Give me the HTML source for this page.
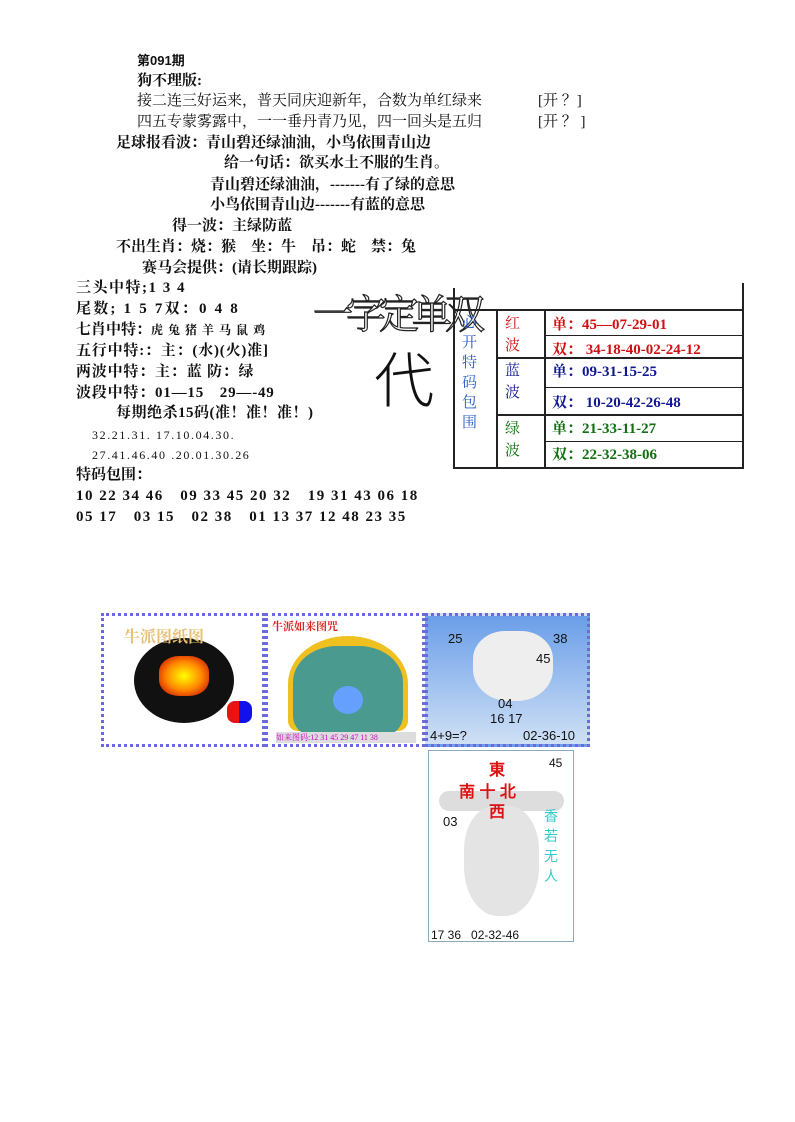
<!DOCTYPE html>
<html><head><meta charset="utf-8"><style>
body{margin:0;width:795px;height:1122px;background:#fff;position:relative;overflow:hidden;font-family:"Liberation Serif","Noto Serif CJK SC",serif;color:#111}
.t{position:absolute;white-space:nowrap;font-size:15px;line-height:18px}
.b{font-weight:bold}
.s{font-size:12px}
.ln{position:absolute;background:#222}
.c{position:absolute;white-space:nowrap;font-size:15px;font-weight:bold}
</style></head><body>
<div class="t b" style="left:137px;top:52px;font-size:13px;font-family:'Liberation Sans','Noto Sans CJK SC',sans-serif">第091期</div>
<div class="t b" style="left:137px;top:72px">狗不理版:</div>
<div class="t" style="left:137px;top:92px">接二连三好运来，普天同庆迎新年，合数为单红绿来</div>
<div class="t" style="left:538px;top:92px">[开 ？]</div>
<div class="t" style="left:137px;top:113px">四五专蒙雾露中，一一垂丹青乃见，四一回头是五归</div>
<div class="t" style="left:538px;top:113px">[开 ？ ]</div>
<div class="t b" style="left:116px;top:134px">足球报看波：青山碧还绿油油，小鸟依围青山边</div>
<div class="t b" style="left:224px;top:154px">给一句话：欲买水土不服的生肖。</div>
<div class="t b" style="left:210px;top:176px">青山碧还绿油油，-------有了绿的意思</div>
<div class="t b" style="left:210px;top:196px">小鸟依围青山边-------有蓝的意思</div>
<div class="t b" style="left:172px;top:217px">得一波：主绿防蓝</div>
<div class="t b" style="left:116px;top:238px">不出生肖：烧：猴　坐：牛　吊：蛇　禁：兔</div>
<div class="t b" style="left:142px;top:259px">赛马会提供：(请长期跟踪)</div>

<div class="t b" style="left:76px;top:279px;letter-spacing:1.5px">三头中特;1 3 4</div>
<div class="t b" style="left:76px;top:300px;letter-spacing:2.2px">尾数; 1 5 7双：0 4 8</div>
<div class="t b" style="left:76px;top:321px">七肖中特：<span class="s" style="letter-spacing:1px">虎 兔 猪 羊 马 鼠 鸡</span></div>
<div class="t b" style="left:76px;top:342px;letter-spacing:0.8px">五行中特:：主：(水)(火)准]</div>
<div class="t b" style="left:76px;top:363px;letter-spacing:0.8px">两波中特：主：蓝 防：绿</div>
<div class="t b" style="left:76px;top:384px;letter-spacing:0.8px">波段中特：01—15　29—-49</div>
<div class="t b" style="left:116px;top:404px;letter-spacing:0.5px">每期绝杀15码(准！准！准！)</div>
<div class="t" style="left:92px;top:426px;font-size:12px;letter-spacing:1.6px">32.21.31. 17.10.04.30.</div>
<div class="t" style="left:92px;top:446px;font-size:12px;letter-spacing:1.6px">27.41.46.40 .20.01.30.26</div>
<div class="t b" style="left:76px;top:466px">特码包围：</div>
<div class="t b" style="left:76px;top:487px;letter-spacing:1.5px">10 22 34 46　09 33 45 20 32　19 31 43 06 18</div>
<div class="t b" style="left:76px;top:508px;letter-spacing:1.5px">05 17　03 15　02 38　01 13 37 12 48 23 35</div>

<div class="t" style="left:313px;top:293px;font-size:40px;line-height:44px;color:#fff;-webkit-text-stroke:1.2px #222;letter-spacing:-7px">一字定单双</div>
<div class="t" style="left:374px;top:345px;font-size:60px;line-height:64px;color:#111;font-family:'Noto Sans CJK SC',sans-serif;font-weight:300">代</div>

<div class="ln" style="left:742px;top:283px;width:2px;height:186px"></div>
<div class="ln" style="left:454px;top:309px;width:290px;height:2px"></div>
<div class="ln" style="left:453px;top:288px;width:2px;height:181px"></div>
<div class="ln" style="left:453px;top:467px;width:291px;height:2px"></div>
<div class="ln" style="left:496px;top:309px;width:2px;height:160px"></div>
<div class="ln" style="left:544px;top:309px;width:2px;height:160px"></div>
<div class="ln" style="left:544px;top:335px;width:200px;height:1px"></div>
<div class="ln" style="left:496px;top:357px;width:248px;height:2px"></div>
<div class="ln" style="left:544px;top:387px;width:200px;height:1px"></div>
<div class="ln" style="left:496px;top:414px;width:248px;height:2px"></div>
<div class="ln" style="left:544px;top:441px;width:200px;height:1px"></div>

<div class="t" style="left:462px;top:313px;width:16px;white-space:normal;font-size:15px;line-height:20px;color:#2a5ac8">必开特码包围</div>
<div class="t" style="left:505px;top:313px;width:16px;white-space:normal;font-size:15px;line-height:22px;color:#d01010">红波</div>
<div class="t" style="left:505px;top:360px;width:16px;white-space:normal;font-size:15px;line-height:22px;color:#101890">蓝波</div>
<div class="t" style="left:505px;top:418px;width:16px;white-space:normal;font-size:15px;line-height:22px;color:#107010">绿波</div>
<div class="c" style="left:552px;top:313px;color:#d01010">单：45—07-29-01</div>
<div class="c" style="left:552px;top:338px;color:#d01010">双：&nbsp;34-18-40-02-24-12</div>
<div class="c" style="left:552px;top:360px;color:#101890">单：09-31-15-25</div>
<div class="c" style="left:552px;top:391px;color:#101890">双：&nbsp;10-20-42-26-48</div>
<div class="c" style="left:552px;top:417px;color:#107010">单：21-33-11-27</div>
<div class="c" style="left:552px;top:443px;color:#107010">双：22-32-38-06</div>

<div style="position:absolute;left:101px;top:613px;width:164px;height:134px;background:#fff;border:3px dotted #6a6adc;box-sizing:border-box">
 <div style="position:absolute;left:30px;top:22px;width:100px;height:85px;border-radius:50%;background:#111"></div>
 <div style="position:absolute;left:55px;top:40px;width:50px;height:40px;border-radius:40%;background:radial-gradient(#ff0,#f80 50%,#c10 90%)"></div>
 <div style="position:absolute;left:123px;top:85px;width:12px;height:22px;background:#e11;border-radius:8px 0 0 8px"></div>
 <div style="position:absolute;left:135px;top:85px;width:13px;height:22px;background:#11e;border-radius:0 8px 8px 0"></div>
 <div style="position:absolute;left:20px;top:8px;font-size:16px;color:#e8c070;font-weight:bold">牛派图纸图</div>
</div>
<div style="position:absolute;left:265px;top:613px;width:160px;height:134px;background:#fff;border:3px dotted #6a6adc;box-sizing:border-box">
 <div style="position:absolute;left:4px;top:2px;font-size:11px;color:#d22;font-weight:bold">牛派如来图咒</div>
 <div style="position:absolute;left:20px;top:20px;width:120px;height:95px;border-radius:50% 50% 10px 10px;background:#f0c020"></div>
 <div style="position:absolute;left:25px;top:30px;width:110px;height:90px;background:#4a9a90;border-radius:40% 40% 20px 20px"></div>
 <div style="position:absolute;left:65px;top:70px;width:30px;height:28px;border-radius:50%;background:#66a0ff"></div>
 <div style="position:absolute;left:8px;top:116px;width:140px;height:11px;background:#ddd;font-size:8px;color:#c0c">如来图码:12 31 45 29 47 11 38</div>
</div>
<div style="position:absolute;left:425px;top:613px;width:165px;height:134px;background:linear-gradient(#6a9ee8,#cfe0f5);border:3px dotted #6a6adc;box-sizing:border-box;font-family:'Liberation Sans',sans-serif">
 <div style="position:absolute;left:45px;top:15px;width:80px;height:70px;background:#eee;border-radius:40% 40% 45% 45%"></div>
 <div style="position:absolute;left:20px;top:15px;font-size:13px">25</div>
 <div style="position:absolute;left:125px;top:15px;font-size:13px">38</div>
 <div style="position:absolute;left:108px;top:35px;font-size:13px">45</div>
 <div style="position:absolute;left:70px;top:80px;font-size:13px">04</div>
 <div style="position:absolute;left:62px;top:95px;font-size:13px">16 17</div>
 <div style="position:absolute;left:2px;top:112px;font-size:13px">4+9=?</div>
 <div style="position:absolute;left:95px;top:112px;font-size:13px">02-36-10</div>
</div>
<div style="position:absolute;left:428px;top:750px;width:146px;height:192px;background:#fff;border:1px solid #8ab;box-sizing:border-box;font-family:'Liberation Sans',sans-serif">
 <div style="position:absolute;left:10px;top:40px;width:125px;height:20px;background:#ddd;border-radius:10px"></div>
 <div style="position:absolute;left:35px;top:55px;width:75px;height:110px;background:#e4e4e4;border-radius:40% 40% 45% 45%"></div>
 <div style="position:absolute;left:60px;top:5px;font-size:16px;color:#d11;font-weight:bold">東</div>
 <div style="position:absolute;left:30px;top:27px;font-size:16px;color:#d11;font-weight:bold">南 十 北</div>
 <div style="position:absolute;left:60px;top:47px;font-size:16px;color:#d11;font-weight:bold">西</div>
 <div style="position:absolute;left:120px;top:5px;font-size:12px">45</div>
 <div style="position:absolute;left:14px;top:63px;font-size:13px">03</div>
 <div style="position:absolute;left:115px;top:55px;width:15px;font-size:14px;color:#3cc;line-height:20px;white-space:normal">香若无人</div>
 <div style="position:absolute;left:2px;top:177px;font-size:12px">17 36&nbsp;&nbsp;&nbsp;02-32-46</div>
</div>
</body></html>
